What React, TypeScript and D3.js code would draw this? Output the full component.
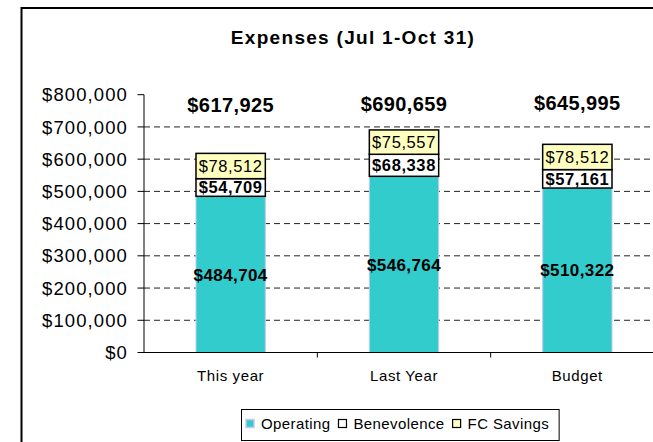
import React from "react";
import * as d3 from "d3";

const categories = ["This year", "Last Year", "Budget"];
const seriesNames = ["Operating", "Benevolence", "FC Savings"];
const operating = [484704, 546764, 510322];
const benevolence = [54709, 68338, 57161];
const fcSavings = [78512, 75557, 78512];
const totals = [617925, 690659, 645995];
const yTicks = [0, 100000, 200000, 300000, 400000, 500000, 600000, 700000, 800000];

const W = 653;
const H = 442;
const FONT = "'Liberation Sans', Arial, Helvetica, sans-serif";

const fills = ["#33CCCC", "#FFFFFF", "#FFFFC0"];
const strokes = ["#C8C8F0", "#000000", "#000000"];

function measure(text: string, font: string, ls = 0) {
  const c = document.createElement("canvas");
  const ctx = c.getContext("2d")!;
  ctx.font = font;
  return ctx.measureText(text).width + ls * text.length;
}

export default function App() {
  const y = d3.scaleLinear().domain([0, 800000]).range([352.5, 94.7]);
  const x = d3.scaleBand<string>().domain(categories).range([144, 664]).padding(0);
  const step = x.step();
  const barW = step / 2.5;
  const fmt = (v: number) => "$" + d3.format(",")(v);

  const data = categories.map((c, i) => ({
    cat: c,
    vals: [operating[i], benevolence[i], fcSavings[i]],
  }));
  const stack = d3.stack<any>().keys(["0", "1", "2"]).value((d, k) => d.vals[+k]);
  const stacked = stack(data as any);

  // legend layout
  const legSize = 15;
  const legLS = 0.4;
  const legFont = `${legSize}px ${FONT}`;
  const legendX0 = 241.5;
  let cx = legendX0 + 4.5;
  const legendItems = seriesNames.map((n, i) => {
    const sx = cx;
    const tx = sx + 15;
    const w = measure(n, legFont, legLS);
    cx = tx + w + 8;
    return { n, i, sx, tx };
  });
  const legendRight = cx + 2;

  return (
    <div style={{ position: "fixed", left: 0, top: 0, width: W, height: H, background: "#fff" }}>
      <svg width={W} height={H} style={{ display: "block", fontFamily: FONT }}>
        <rect x={0} y={0} width={W} height={H} fill="#fff" />
        {/* outer frame */}
        <rect x={21.5} y={8} width={800} height={600} fill="none" stroke="#000" strokeWidth={2} />
        {/* title */}
        <text x={353} y={44} textAnchor="middle" fontSize={19} fontWeight="bold" letterSpacing={1.3} fill="#000">
          Expenses (Jul 1-Oct 31)
        </text>
        {/* grid lines */}
        {yTicks.filter((t) => t > 0 && t < 800000).map((t) => (
          <line key={"g" + t} x1={144} x2={664} y1={y(t)} y2={y(t)} stroke="#222" strokeWidth={1} strokeDasharray="6,4" />
        ))}
        {/* bars */}
        {stacked.map((layer, si) =>
          layer.map((d, ci) => {
            const cat = categories[ci];
            const bx = (x(cat) as number) + (step - barW) / 2;
            const y0 = y(d[0]);
            const y1 = y(d[1]);
            return (
              <rect key={`b${si}-${ci}`} x={bx} y={y1} width={barW} height={y0 - y1}
                fill={fills[si]} stroke={strokes[si]} strokeWidth={si === 0 ? 1 : 1.5} />
            );
          })
        )}
        {/* segment labels */}
        {stacked.map((layer, si) =>
          layer.map((d, ci) => {
            const cat = categories[ci];
            const cxm = (x(cat) as number) + step / 2;
            const ym = (y(d[0]) + y(d[1])) / 2;
            const v = d[1] - d[0];
            const isOp = si === 0;
            return (
              <text key={`l${si}-${ci}`} x={cxm} y={ym} dy="0.36em" textAnchor="middle"
                fontSize={isOp ? 17 : 16.5} fontWeight={si === 2 ? "normal" : "bold"}
                letterSpacing={isOp ? 0.4 : 0.6} fill="#000">
                {fmt(v)}
              </text>
            );
          })
        )}
        {/* totals */}
        {totals.map((t, i) => (
          <text key={"t" + i} x={(x(categories[i]) as number) + step / 2} y={112 - (i === 2 ? 2 : i === 1 ? 1 : 0)}
            textAnchor="middle" fontSize={20} fontWeight="bold" letterSpacing={0.4} fill="#000">
            {fmt(t)}
          </text>
        ))}
        {/* y axis */}
        <line x1={144} x2={144} y1={y(800000)} y2={y(0)} stroke="#000" strokeWidth={1} />
        {yTicks.map((t) => (
          <g key={"yt" + t}>
            <line x1={137.5} x2={144} y1={y(t)} y2={y(t)} stroke="#000" />
            <text x={128} y={y(t)} dy="0.36em" textAnchor="end" fontSize={18.5} letterSpacing={1.1} fill="#000">
              {fmt(t)}
            </text>
          </g>
        ))}
        {/* x axis */}
        <line x1={144} x2={664} y1={y(0)} y2={y(0)} stroke="#000" strokeWidth={1} />
        {categories.map((c, i) => (
          <g key={"xt" + c}>
            {i > 0 && <line x1={x(c)} x2={x(c)} y1={y(0)} y2={y(0) + 5} stroke="#000" />}
            <text x={(x(c) as number) + step / 2} y={381} textAnchor="middle" fontSize={15} letterSpacing={0.6} fill="#000">
              {c}
            </text>
          </g>
        ))}
        {/* legend */}
        <rect x={legendX0} y={409.5} width={legendRight - legendX0} height={31} fill="#fff" stroke="#000" strokeWidth={1} />
        {legendItems.map((it) => (
          <g key={"lg" + it.i}>
            <rect x={it.sx} y={419.5} width={8} height={8} fill={fills[it.i]}
              stroke={it.i === 0 ? "#C8C8F0" : "#000"} strokeWidth={it.i === 0 ? 1.5 : 1.2} />
            <text x={it.tx} y={429} fontSize={legSize} letterSpacing={legLS} fill="#000">{it.n}</text>
          </g>
        ))}
      </svg>
    </div>
  );
}
